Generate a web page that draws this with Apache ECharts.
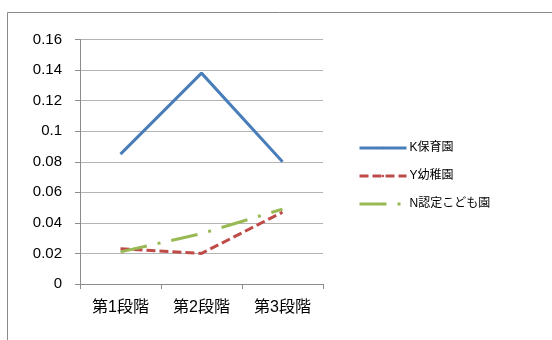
<!DOCTYPE html>
<html><head><meta charset="utf-8">
<script src="https://cdn.jsdelivr.net/npm/echarts@6/dist/echarts.min.js"></script>
<style>html,body{margin:0;padding:0;background:#fff}#c{width:552px;height:340px}</style>
</head><body><div id="c"></div>
<script>
const categories = ['第1段階', '第2段階', '第3段階'];
const seriesNames = ['K保育園', 'Y幼稚園', 'N認定こども園'];
const kValues = [0.085, 0.138, 0.080];
const yValues = [0.023, 0.020, 0.047];
const nValues = [0.021, 0.033, 0.049];
const yTicks = { min: 0, max: 0.16, interval: 0.02 };

const font = '"Liberation Sans", "Noto Sans CJK JP", sans-serif';
const chart = echarts.init(document.getElementById('c'), null, { renderer: 'canvas' });
chart.setOption({
  animation: false,
  backgroundColor: '#fff',
  graphic: [{
    type: 'polyline', shape: { points: [[7.5, 340], [7.5, 12.5], [552, 12.5]] },
    style: { stroke: '#8a8a8a', lineWidth: 1, fill: null }, silent: true
  }],
  grid: { left: 80, right: 229, top: 39.5, bottom: 56, containLabel: false },
  legend: {
    orient: 'vertical', left: 353, top: 137, itemWidth: 47, itemHeight: 3, itemGap: 16,
    lineStyle: { width: 3 },
    textStyle: { fontFamily: font, fontSize: 12, color: '#000', padding: [0, 0, 0, -2] },
    data: seriesNames
  },
  xAxis: {
    type: 'category', data: categories, boundaryGap: true,
    axisLine: { lineStyle: { color: '#8c8c8c', width: 1 } },
    axisTick: { show: true, length: 5, lineStyle: { color: '#8c8c8c' } },
    axisLabel: { fontFamily: font, fontSize: 16, color: '#000', margin: 16 }
  },
  yAxis: {
    type: 'value', min: yTicks.min, max: yTicks.max, interval: yTicks.interval,
    axisLine: { show: true, lineStyle: { color: '#8c8c8c', width: 1 } },
    axisTick: { show: true, length: 5, lineStyle: { color: '#8c8c8c' } },
    splitLine: { show: true, lineStyle: { color: '#b3b3b3', width: 1 } },
    axisLabel: { fontFamily: font, fontSize: 15, color: '#000', margin: 18,
      formatter: v => String(Math.round(v * 100) / 100) }
  },
  series: [
    { name: seriesNames[0], type: 'line', data: kValues, symbol: 'none',
      itemStyle: { color: '#4a7ebb' }, lineStyle: { color: '#4a7ebb', width: 3 } },
    { name: seriesNames[1], type: 'line', data: yValues, symbol: 'none',
      itemStyle: { color: '#be4b48' }, lineStyle: { color: '#be4b48', width: 3, type: [9, 4] } },
    { name: seriesNames[2], type: 'line', data: nValues, symbol: 'none',
      itemStyle: { color: '#98b954' }, lineStyle: { color: '#98b954', width: 3, type: [27, 11, 3, 11] } }
  ]
});
</script></body></html>
